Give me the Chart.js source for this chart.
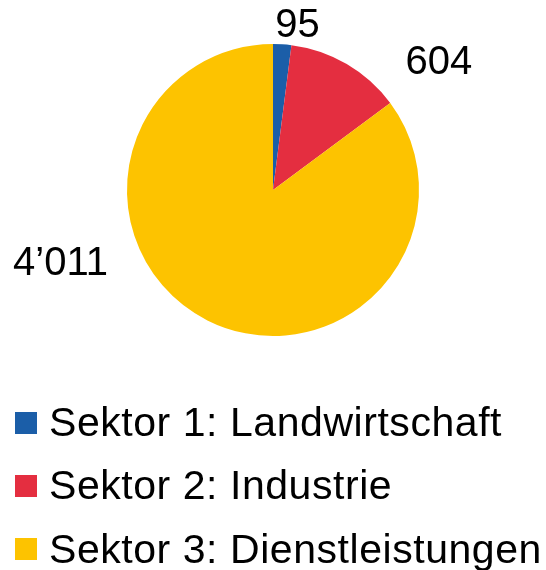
<!DOCTYPE html>
<html>
<head>
<meta charset="utf-8">
<script src="https://cdn.jsdelivr.net/npm/chart.js@4/dist/chart.umd.min.js"></script>
<style>
  html, body { margin: 0; padding: 0; background: #fff; }
  #wrap { position: relative; width: 546px; height: 570px; overflow: hidden; }
  #c { position: absolute; left: 0; top: 0; }
  #legend { position: absolute; left: 0; top: 391px; width: 546px; font-family: "Liberation Sans", Arial, sans-serif; }
  .row { height: 63.3px; display: flex; align-items: center; white-space: nowrap; }
  .box { width: 22px; height: 22px; margin-left: 15px; margin-right: 12px; flex: none; }
  .txt { font-size: 41px; line-height: 41px; letter-spacing: 0.55px; color: #000; }
</style>
</head>
<body>
<div id="wrap">
  <canvas id="c" width="546" height="570"></canvas>
  <div id="legend"></div>
</div>
<script>
// Data
const categories = ["Sektor 1: Landwirtschaft", "Sektor 2: Industrie", "Sektor 3: Dienstleistungen"];
const values = [95, 604, 4011];
const colors = ["#1B5EA8", "#E42E40", "#FDC300"];
// Value-label placement: angle (deg, clockwise from top) and distance as a multiple of the radius
const labelAngles = [8.5, 52.6, 250.9];
const labelDistances = [1.136, 1.431, 1.54];

function fmt(v) {
  return String(v).replace(/\B(?=(\d{3})+(?!\d))/g, "\u2019");
}

const valueLabels = {
  id: "valueLabels",
  afterDatasetsDraw(chart) {
    const ctx = chart.ctx;
    const meta = chart.getDatasetMeta(0);
    ctx.save();
    ctx.font = '40px "Liberation Sans", Arial, sans-serif';
    ctx.fillStyle = "#000";
    ctx.textAlign = "center";
    ctx.textBaseline = "middle";
    meta.data.forEach((arc, i) => {
      const a = labelAngles[i] * Math.PI / 180;
      const d = arc.outerRadius * labelDistances[i];
      const x = arc.x + Math.sin(a) * d;
      const y = arc.y - Math.cos(a) * d;
      ctx.fillText(fmt(values[i]), x, y);
    });
    ctx.restore();
  }
};

new Chart(document.getElementById("c"), {
  type: "pie",
  data: {
    labels: categories,
    datasets: [{
      data: values,
      backgroundColor: colors,
      borderWidth: 0
    }]
  },
  options: {
    responsive: false,
    animation: false,
    layout: { padding: { left: 127, right: 127, top: 44, bottom: 234 } },
    plugins: {
      legend: { display: false },
      tooltip: { enabled: false }
    }
  },
  plugins: [valueLabels]
});

const legend = document.getElementById("legend");
categories.forEach((name, i) => {
  const row = document.createElement("div");
  row.className = "row";
  const box = document.createElement("span");
  box.className = "box";
  box.style.background = colors[i];
  const txt = document.createElement("span");
  txt.className = "txt";
  txt.textContent = name;
  row.appendChild(box);
  row.appendChild(txt);
  legend.appendChild(row);
});
</script>
</body>
</html>
